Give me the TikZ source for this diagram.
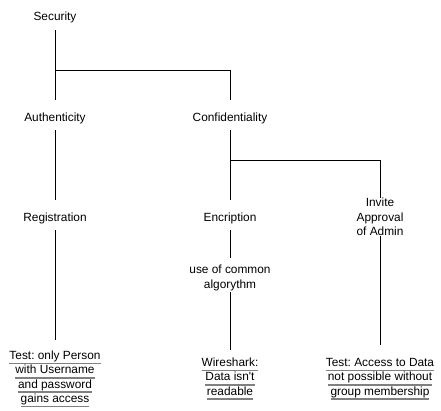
\documentclass[tikz,border=0pt]{standalone}
\usepackage{fontspec}
\setmainfont{Liberation Sans}
\usetikzlibrary{calc}
\frenchspacing

\newsavebox\undlbox
\newcommand{\undl}[1]{\sbox\undlbox{#1}\leavevmode\rlap{\textcolor{gray}{\rule[-3.6pt]{\wd\undlbox}{1.2pt}}}\usebox\undlbox}
\newcommand{\tope}{\rule[-2pt]{0pt}{13pt}}	%%%%	baja el texto dentro de la caja

\begin{document}
\begin{tikzpicture}[x=0.75pt,y=-0.75pt,
	item/.style={inner sep=0pt, minimum width=80pt, minimum height=22.5pt, align=center,
		font=\fontsize{8.9pt}{10.7pt}\selectfont},
	rama/.style={line width=0.75pt, black}]
\useasboundingbox (0,0) rectangle (441,410);

%%%%%%%%%%%%%%%%%%%%%%%%%%%%%%%%%%%%%%%%%%%%%%%% 	NIVEL 1
\node[item] (sec) at (55,15) {\tope Security};

%%%%%%%%%%%%%%%%%%%%%%%%%%%%%%%%%%%%%%%%%%%%%%%% 	NIVEL 2
\node[item] (auth) at (55,115) {\tope Authenticity};
\node[item] (conf) at (230,115) {\tope Confidentiality};

%%%%%%%%%%%%%%%%%%%%%%%%%%%%%%%%%%%%%%%%%%%%%%%% 	NIVEL 3
\node[item] (reg) at (55,215) {\tope Registration};
\node[item] (enc) at (230,215) {\tope Encription};
\node[item, minimum height=0pt] (inv) at (380,217) {Invite\\Approval\\of Admin};
\node[item, minimum height=25.5pt] (alg) at (230,275) {\tope use of common\\algorythm};

%%%%%%%%%%%%%%%%%%%%%%%%%%%%%%%%%%%%%%%%%%%%%%%% 	PRUEBAS (subrayadas)
\node[item, minimum height=54pt] (test1) at (55,376)
	{\tope\undl{Test: only Person}\\\undl{with Username}\\\undl{and password}\\\undl{gains access}};
\node[item, minimum height=39pt] (test2) at (230,376)
	{\tope\undl{Wireshark:}\\\undl{Data isn\textquotesingle t}\\\undl{readable}};
\node[item, minimum height=46.5pt] (test3) at (380,376)
	{\tope\undl{Test: Access to Data}\\\undl{not possible without}\\\undl{group membership}};

%%%%%%%%%%%%%%%%%%%%%%%%%%%%%%%%%%%%%%%%%%%%%%%% 	RAMAS
\coordinate (j1) at (55,70);		%%%%	quiebre de Security
\coordinate (j2) at (230,160);		%%%%	quiebre de Confidentiality

\draw[rama] (sec) -- (auth);
\draw[rama] (j1) -| (conf);
\draw[rama] (auth) -- (reg);
\draw[rama] (reg) -- (test1);

\draw[rama] (conf) -- (enc);
\draw[rama] (j2) -| (inv);
\draw[rama] (enc) -- (alg);
\draw[rama] (alg) -- (test2);
\draw[rama] (inv) -- (test3);

\end{tikzpicture}
\end{document}
